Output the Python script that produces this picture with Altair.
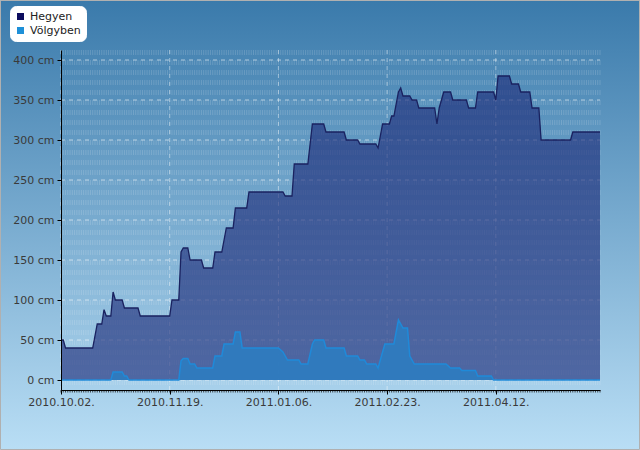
import altair as alt
import pandas as pd

# ---------------- data ----------------
hegyen_dates = [
    "2010-10-02", "2010-10-03", "2010-10-04", "2010-10-16", "2010-10-18", "2010-10-20",
    "2010-10-21", "2010-10-22", "2010-10-24", "2010-10-25", "2010-10-26", "2010-10-29",
    "2010-10-30", "2010-11-05", "2010-11-06", "2010-11-19", "2010-11-20", "2010-11-23",
    "2010-11-24", "2010-11-25", "2010-11-27", "2010-11-28", "2010-12-03", "2010-12-04",
    "2010-12-08", "2010-12-09", "2010-12-12", "2010-12-13", "2010-12-14", "2010-12-17",
    "2010-12-18", "2010-12-23", "2010-12-24", "2011-01-08", "2011-01-09", "2011-01-12",
    "2011-01-13", "2011-01-19", "2011-01-21", "2011-01-26", "2011-01-27", "2011-02-04",
    "2011-02-05", "2011-02-10", "2011-02-11", "2011-02-18", "2011-02-19", "2011-02-21",
    "2011-02-24", "2011-02-25", "2011-02-26", "2011-02-28", "2011-03-01", "2011-03-02",
    "2011-03-05", "2011-03-06", "2011-03-08", "2011-03-09", "2011-03-16", "2011-03-17",
    "2011-03-18", "2011-03-20", "2011-03-23", "2011-03-24", "2011-03-30", "2011-03-31",
    "2011-04-03", "2011-04-04", "2011-04-11", "2011-04-12", "2011-04-13", "2011-04-18",
    "2011-04-19", "2011-04-22", "2011-04-23", "2011-04-27", "2011-04-28", "2011-05-01",
    "2011-05-02", "2011-05-15", "2011-05-16", "2011-05-28",
]
hegyen_values = [
    50, 50, 40, 40, 70, 70,
    88, 80, 80, 110, 100, 100,
    90, 90, 80, 80, 100, 100,
    160, 165, 165, 150, 150, 140,
    140, 160, 160, 175, 190, 190,
    215, 215, 235, 235, 230, 230,
    270, 270, 320, 320, 310, 310,
    300, 300, 295, 295, 290, 320,
    320, 330, 330, 360, 365, 355,
    355, 350, 350, 340, 340, 320,
    340, 360, 360, 350, 350, 340,
    340, 360, 360, 350, 380, 380,
    370, 370, 360, 360, 340, 340,
    300, 300, 310, 310,
]

volgy_dates = [
    "2010-10-02", "2010-10-24", "2010-10-25", "2010-10-29", "2010-10-30", "2010-10-31",
    "2010-11-01", "2010-11-23", "2010-11-24", "2010-11-25", "2010-11-27", "2010-11-28",
    "2010-11-30", "2010-12-01", "2010-12-08", "2010-12-09", "2010-12-12", "2010-12-13",
    "2010-12-17", "2010-12-18", "2010-12-20", "2010-12-21", "2011-01-06", "2011-01-08",
    "2011-01-10", "2011-01-15", "2011-01-16", "2011-01-19", "2011-01-21", "2011-01-22",
    "2011-01-26", "2011-01-27", "2011-02-04", "2011-02-05", "2011-02-10", "2011-02-11",
    "2011-02-13", "2011-02-14", "2011-02-18", "2011-02-19", "2011-02-21", "2011-02-22",
    "2011-02-26", "2011-02-28", "2011-03-02", "2011-03-04", "2011-03-05", "2011-03-07",
    "2011-03-21", "2011-03-23", "2011-03-27", "2011-03-28", "2011-04-03", "2011-04-04",
    "2011-04-10", "2011-04-11", "2011-05-28",
]
volgy_values = [
    0, 0, 10, 10, 5, 5,
    0, 0, 24, 27, 27, 20,
    20, 15, 15, 30, 30, 45,
    45, 60, 60, 40, 40, 35,
    25, 25, 20, 20, 45, 50,
    50, 40, 40, 30, 30, 25,
    25, 20, 20, 15, 35, 45,
    45, 75, 65, 65, 30, 20,
    20, 15, 15, 12, 12, 5,
    5, 0, 0,
]

series_names = ["Hegyen", "Völgyben"]
legend_colors = ["#0c0c5e", "#1e90d8"]
y_ticks = [0, 50, 100, 150, 200, 250, 300, 350, 400]
x_tick_dates = ["2010-10-02", "2010-11-19", "2011-01-06", "2011-02-23", "2011-04-12"]
start_date, end_date = "2010-10-02", "2011-05-28"

# ---------------- layout ----------------
W, H = 539, 340
PAD_L, PAD_T, PAD_R, PAD_B = 61, 50, 40, 60
FONT = "DejaVu Sans"

heg = pd.DataFrame({"date": hegyen_dates, "value": hegyen_values})
vol = pd.DataFrame({"date": volgy_dates, "value": volgy_values})
days = pd.DataFrame({"date": pd.date_range(start_date, end_date, freq="D").strftime("%Y-%m-%d")})
yt = pd.DataFrame({"value": y_ticks})
xt = pd.DataFrame({"date": x_tick_dates})
leg = pd.DataFrame({"series": series_names})


def dt(s):
    y, m, d = (int(p) for p in s.split("-"))
    return alt.DateTime(year=y, month=m, date=d, utc=True)


x_scale = alt.Scale(type="utc", domain=[dt(start_date), dt(end_date)])
y_scale = alt.Scale(domain=[-12.5, 412.5], nice=False, zero=False)

x_axis = alt.Axis(
    values=[dt(s) for s in x_tick_dates],
    labelExpr="utcFormat(datum.value, '%Y.%m.%d.')",
    grid=False, title=None, domainColor="#000000", tickColor="#000000", tickSize=4,
    labelPadding=2, labelFont=FONT, labelFontSize=11, labelColor="#3a3a3a",
    labelFlush=False, labelOverlap=False, zindex=1,
)
y_axis = alt.Axis(
    values=y_ticks, labelExpr="datum.value + ' cm'", grid=False, title=None,
    domainColor="#000000", tickColor="#000000", tickSize=4, labelPadding=3,
    labelFont=FONT, labelFontSize=11, labelColor="#3a3a3a", zindex=1,
)


def X(field="date:T"):
    return alt.X(field, scale=x_scale, axis=x_axis)


def Y(field="value:Q"):
    return alt.Y(field, scale=y_scale, axis=y_axis)


bg_gradient = alt.LinearGradient(
    gradient="linear", x1=0, x2=0, y1=0, y2=1,
    stops=[alt.GradientStop(color="#3a7aab", offset=0),
           alt.GradientStop(color="#b9def5", offset=1)],
)

background = alt.Chart(pd.DataFrame({"a": [0]})).mark_rect(
    fill=bg_gradient, stroke="#b0b0b0", strokeWidth=1
).encode(
    x=alt.value(-PAD_L + 0.5), x2=alt.value(W + PAD_R - 0.5),
    y=alt.value(-PAD_T + 0.5), y2=alt.value(H + PAD_B - 0.5),
)

minor_grid = alt.Chart(days).mark_rule(
    color="#ffffff", opacity=0.16, strokeWidth=1, strokeDash=[5, 5]
).encode(x=X(), y=alt.value(0), y2=alt.value(H))

h_grid = alt.Chart(yt).mark_rule(
    color="#ffffff", opacity=0.55, strokeWidth=1, strokeDash=[4, 4]
).encode(y=Y(), x=alt.value(0), x2=alt.value(W))

v_grid = alt.Chart(xt).mark_rule(
    color="#ffffff", opacity=0.45, strokeWidth=1, strokeDash=[4, 4]
).encode(x=X(), y=alt.value(0), y2=alt.value(H))

heg_area = alt.Chart(heg).mark_area(color="#1c2b78", opacity=0.63).encode(
    x=X(), y=Y(), y2=alt.datum(0)
)
heg_line = alt.Chart(heg).mark_line(color="#1a2260", strokeWidth=1.3).encode(x=X(), y=Y())

vol_area = alt.Chart(vol).mark_area(color="#2e7bbf", opacity=0.95).encode(
    x=X(), y=Y(), y2=alt.datum(0)
)
vol_line = alt.Chart(vol).mark_line(color="#1f8ad9", strokeWidth=1.5).encode(x=X(), y=Y())

minor_ticks = alt.Chart(days).mark_rule(color="#222222", opacity=0.8, strokeWidth=1).encode(
    x=X(), y=alt.value(H), y2=alt.value(H + 2.5)
)

legend_layer = alt.Chart(leg).mark_square(opacity=0, size=1).encode(
    x=alt.value(0), y=alt.value(0),
    color=alt.Color(
        "series:N",
        scale=alt.Scale(domain=series_names, range=legend_colors),
        legend=alt.Legend(
            title=None, orient="none", legendX=10 - PAD_L, legendY=6 - PAD_T,
            fillColor="#ffffff", strokeColor="#ffffff", cornerRadius=6, padding=5,
            symbolType="square", symbolSize=49, symbolStrokeWidth=0, symbolOpacity=1,
            labelFont=FONT, labelFontSize=11, labelColor="#222222", labelOffset=4,
            rowPadding=2,
        ),
    ),
)

chart = alt.layer(
    background, minor_grid, h_grid, v_grid,
    heg_area, heg_line, vol_area, vol_line,
    minor_ticks, legend_layer,
).properties(
    width=W, height=H,
    autosize=alt.AutoSizeParams(type="none"),
    padding={"left": PAD_L, "top": PAD_T, "right": PAD_R, "bottom": PAD_B},
).configure_view(stroke=None).configure(background="#b9def5")

chart.save("out.html", embed_options={"renderer": "svg", "actions": False})
